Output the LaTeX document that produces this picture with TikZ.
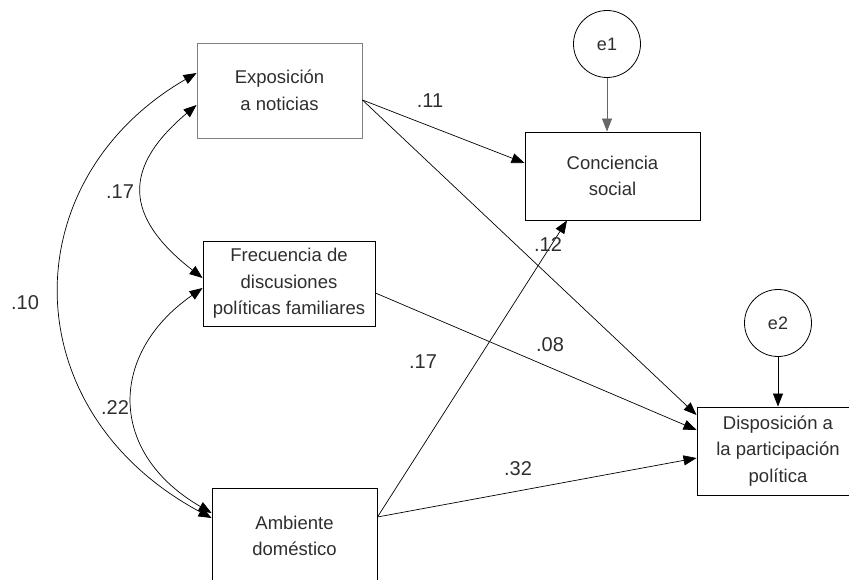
\documentclass[tikz,border=0pt]{standalone}
\usepackage{fontspec}
\setmainfont{Liberation Sans}
\usepackage{tikz}
\usetikzlibrary{positioning,arrows.meta}
\definecolor{inkgray}{gray}{0.18}
\tikzset{
  varbox/.style={draw, line width=0.9pt, rectangle, inner sep=0pt, align=center,
    text=inkgray, font=\fontsize{18.5}{26.5}\selectfont},
  errcirc/.style={draw, line width=0.8pt, circle, minimum size=67pt, inner sep=0pt,
    text=inkgray, font=\fontsize{18}{22}\selectfont},
  coef/.style={text=inkgray, font=\fontsize{20}{24}\selectfont},
  effect/.style={line width=0.7pt, -{Triangle[length=13pt,width=10pt]}},
  covar/.style={line width=0.7pt, {Triangle[length=13pt,width=10pt]}-{Triangle[length=13pt,width=10pt]}}
}
\begin{document}
\begin{tikzpicture}[x=1pt,y=-1pt]
    \useasboundingbox (0,0) rectangle (849,580);
    \node[varbox, draw=gray, minimum width=165pt, minimum height=95pt] (expo) at (279.5,90.5) {Exposición\\a noticias};
    \node[varbox, minimum width=172pt, minimum height=85pt] (frec) at (289,283.5) {Frecuencia de\\discusiones\\políticas familiares};
    \node[varbox, minimum width=165pt, minimum height=96pt] (ambi) at (294.5,536) {Ambiente\\doméstico};
    \node[varbox, minimum width=175pt, minimum height=88pt] (conc) at (612.5,176) {Conciencia\\social};
    \node[varbox, minimum width=162pt, minimum height=88pt] (disp) at (778,451) {Disposición a\\la participación\\política};
    \node[errcirc] (e1) at (607,44) {e1};
    \node[errcirc] (e2) at (778,323) {e2};
    \draw[effect, draw=gray!80!black] (e1.south) -- (e1.south |- conc.north);
    \draw[effect] (e2.south) -- (disp.north);
    \draw[effect] ([yshift=-9.5pt]expo.east) -- ([yshift=13pt]conc.west);
    \draw[effect] ([yshift=-9.5pt]expo.east) -- ([yshift=36pt]disp.west);
    \draw[effect] ([yshift=-9.5pt]frec.east) -- ([yshift=21pt]disp.west);
    \draw[effect] ([yshift=19pt]ambi.east) -- ([yshift=-7pt]disp.west);
    \draw[effect] ([yshift=19pt]ambi.east) -- ([xshift=-45.5pt]conc.south);
    \draw[covar] ([yshift=-14.5pt]expo.west) .. controls (123,167) and (123,216) .. ([yshift=5.5pt]frec.west);
    \draw[covar] ([yshift=-4.5pt]frec.west) .. controls (108,354) and (108,453) .. ([yshift=23pt]ambi.west);
    \draw[covar] ([yshift=17.5pt]expo.west) .. controls (12,180) and (12,411) .. ([yshift=18pt]ambi.west);
    \node[coef] (c11) at (430,101) {.11};
    \node[coef] (c12) at (548,245) {.12};
    \node[coef] (c17m) at (423,362) {.17};
    \node[coef] (c08) at (550,345) {.08};
    \node[coef] (c32) at (518,469) {.32};
    \node[coef] (c17l) at (120,192) {.17};
    \node[coef] (c22) at (115,408) {.22};
    \node[coef] (c10) at (25,303) {.10};
\end{tikzpicture}
\end{document}
